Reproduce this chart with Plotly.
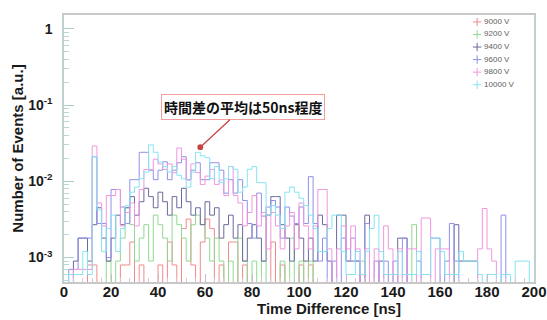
import math
import plotly.graph_objects as go

# bin edges: 2 ns bins from 0 to 200 ns
bin_width_ns = 2
n_bins = 100

labels = ["9000 V", "9200 V", "9400 V", "9600 V", "9800 V", "10000 V"]
colors = ["#f28a8a", "#92d892", "#6a6a9c", "#9090ea", "#f296de", "#86e4f2"]

v9000 = [0, 0, 0, 0, 0, 0.0008, 0.0008, 0, 0, 0,
         0, 0, 0.0008, 0.0008, 0.0016, 0, 0.0008, 0, 0, 0,
         0.0008, 0, 0.0016, 0.0008, 0, 0.0024, 0.0032, 0.0008, 0, 0.0016,
         0.0032, 0.0024, 0, 0.0008, 0, 0.0016, 0.0016, 0, 0.0008, 0,
         0, 0, 0, 0, 0.0016, 0, 0.0008, 0, 0, 0,
         0.0008, 0, 0.0008, 0, 0, 0, 0, 0, 0, 0,
         0, 0, 0, 0, 0, 0, 0, 0, 0, 0,
         0, 0, 0, 0, 0, 0, 0, 0, 0, 0,
         0, 0, 0, 0, 0, 0, 0, 0, 0, 0,
         0, 0, 0, 0, 0, 0, 0, 0, 0, 0]

v9200 = [0, 0, 0, 0, 0, 0, 0, 0, 0, 0.0009,
         0, 0.0009, 0.0018, 0.0045, 0.0027, 0.0009, 0.0018, 0.0027, 0.0009, 0.0036,
         0.0027, 0.0018, 0.0009, 0.0036, 0.0027, 0.0018, 0.0009, 0.0027, 0.0036, 0.0027,
         0.0018, 0.0009, 0.0018, 0.0009, 0, 0.0009, 0, 0.0018, 0.0009, 0,
         0.0009, 0, 0.0009, 0, 0, 0, 0.0009, 0, 0.0018, 0,
         0.0009, 0, 0.0009, 0, 0, 0, 0, 0, 0, 0,
         0, 0, 0, 0.0009, 0, 0, 0, 0, 0, 0,
         0, 0, 0, 0, 0.0027, 0, 0, 0, 0, 0,
         0, 0, 0, 0, 0, 0, 0, 0, 0, 0,
         0, 0, 0, 0, 0, 0, 0, 0, 0, 0]

v9400 = [0, 0, 0.0009, 0.0018, 0.0018, 0.0009, 0.0027, 0.0045, 0.0018, 0.0009,
         0.0018, 0.0036, 0.0027, 0.0045, 0.0063, 0.0036, 0.0054, 0.0081, 0.0063, 0.0045,
         0.0072, 0.0054, 0.0036, 0.0063, 0.0045, 0.0081, 0.0054, 0.0036, 0.0045, 0.0027,
         0.0054, 0.0036, 0.0045, 0.0018, 0.0027, 0.0036, 0.0018, 0.0027, 0.0009, 0.0018,
         0.0027, 0.0018, 0.0009, 0.0036, 0.0063, 0.0063, 0.0027, 0.0018, 0.0009, 0.0027,
         0.0018, 0.0009, 0.0018, 0.0009, 0.0036, 0.0027, 0.0009, 0, 0.0036, 0.0036,
         0.0009, 0.0009, 0.0009, 0, 0.0036, 0, 0, 0.0009, 0, 0,
         0, 0.0018, 0.0018, 0, 0, 0, 0, 0, 0, 0,
         0, 0, 0, 0.0027, 0.0009, 0.0009, 0.0009, 0.0009, 0, 0,
         0, 0, 0, 0, 0, 0, 0, 0, 0, 0]

v9600 = [0, 0.0007, 0.0007, 0.0018, 0.0018, 0.0018, 0.021, 0.0028, 0.0028, 0.001,
         0.0078, 0.0078, 0.0046, 0.0028, 0.0105, 0.0105, 0.024, 0.024, 0.014, 0.0105,
         0.014, 0.018, 0.0105, 0.014, 0.0175, 0.021, 0.0105, 0.014, 0.0175, 0.0105,
         0.0105, 0.0175, 0.0175, 0.014, 0.007, 0.0105, 0.007, 0.0105, 0.0056, 0.0028,
         0.0018, 0.007, 0.0035, 0.0046, 0.0056, 0.0046, 0.0018, 0.0046, 0.0035, 0.0028,
         0.0046, 0.0028, 0.0115, 0.0028, 0.0009, 0.0018, 0, 0.0009, 0, 0.0018,
         0.0009, 0.0018, 0.0009, 0, 0.0028, 0, 0.0009, 0, 0.0009, 0,
         0.0009, 0, 0.0018, 0, 0, 0.0009, 0, 0, 0.0018, 0.0018,
         0, 0.0009, 0.0028, 0.0009, 0, 0, 0, 0, 0, 0,
         0, 0, 0, 0.0036, 0, 0, 0, 0, 0, 0]

v9800 = [0, 0, 0.0007, 0.0007, 0.0007, 0.0007, 0.029, 0.0052, 0.0026, 0.0065,
         0.0065, 0.0078, 0.0026, 0.0039, 0.0052, 0.0026, 0.0078, 0.0143, 0.0143, 0.0195,
         0.0169, 0.0143, 0.0169, 0.013, 0.0273, 0.0195, 0.0104, 0.0169, 0.013, 0.0091,
         0.0117, 0.0143, 0.0091, 0.0104, 0.0065, 0.0156, 0.0065, 0.0052, 0.0026, 0.0039,
         0.0065, 0.0026, 0.0039, 0.0013, 0.0039, 0.0026, 0.0013, 0.0026, 0.0039, 0.0013,
         0.0052, 0.0026, 0.0013, 0.0026, 0.0078, 0.0078, 0.0013, 0, 0.0013, 0.0026,
         0.0013, 0.0026, 0.0013, 0, 0.0013, 0, 0.0013, 0, 0.0026, 0.0013,
         0, 0.0013, 0, 0.0013, 0.0013, 0, 0.0033, 0.0033, 0, 0.0013,
         0.0013, 0.0013, 0, 0, 0, 0, 0, 0, 0.0013, 0.0044,
         0.0013, 0.0009, 0, 0, 0, 0, 0, 0, 0, 0]

v10000 = [0, 0.0006, 0.0006, 0.0006, 0.0012, 0.0006, 0.021, 0.0042, 0.0012, 0.0024,
          0.0036, 0.0012, 0.0024, 0.0048, 0.0072, 0.0084, 0.0108, 0.0132, 0.030, 0.024,
          0.018, 0.0156, 0.0132, 0.0156, 0.012, 0.0108, 0.0084, 0.0132, 0.024, 0.0216,
          0.0204, 0.0108, 0.0156, 0.0096, 0.0108, 0.0156, 0.0144, 0.0072, 0.0084, 0.0144,
          0.0156, 0.0096, 0.0096, 0.0036, 0.0048, 0.0036, 0.0024, 0.0072, 0.0084, 0.0072,
          0.006, 0.0048, 0.0036, 0.0024, 0.0012, 0.0012, 0.0024, 0.0036, 0.0036, 0.0012,
          0.0006, 0.0006, 0.0012, 0.0006, 0.0012, 0.0024, 0.0036, 0.0012, 0.0006, 0.0006,
          0.0006, 0.0012, 0.0006, 0.0006, 0.0006, 0.0012, 0.0006, 0.0006, 0.0018, 0.0018,
          0.0012, 0.0006, 0.0006, 0.0006, 0.0012, 0.0009, 0.0009, 0.0009, 0.0006, 0,
          0.0006, 0.0006, 0, 0.0006, 0.0006, 0, 0.0009, 0.0009, 0.0009, 0]

series = [v9000, v9200, v9400, v9600, v9800, v10000]

x_tick_vals = [0, 20, 40, 60, 80, 100, 120, 140, 160, 180, 200]
y_tick_vals = [1, 0.1, 0.01, 0.001]
y_tick_text = ["1", "10<sup>-1</sup>", "10<sup>-2</sup>", "10<sup>-3</sup>"]
y_minor_vals = [m * 10.0 ** e for e in (-4, -3, -2, -1) for m in range(2, 10)]

x_title = "Time Difference [ns]"
y_title = "Number of Events [a.u.]"
annot_text = "時間差の平均は50ns程度"
annot_x = 58
annot_y = 0.028

edges = [i * bin_width_ns for i in range(n_bins + 1)]
floor_val = 1e-6  # empty bins drop below the visible range

fig = go.Figure()
for vals, name, col in zip(series, labels, colors):
    yv = [v if v > 0 else floor_val for v in vals]
    fig.add_trace(go.Scatter(
        x=edges, y=yv + [yv[-1]], mode="lines", line_shape="hv",
        line=dict(color=col, width=1), showlegend=False, hoverinfo="skip"))

# legend drawn on an overlay axis spanning the plot area (0..1 both ways)
leg_x = 0.879
leg_top = 0.974
leg_step = 0.047
leg_y = [leg_top - i * leg_step for i in range(len(labels))]
fig.add_trace(go.Scatter(
    x=[leg_x] * len(labels), y=leg_y, xaxis="x2", yaxis="y2",
    mode="markers+text", text=[" " + s for s in labels], textposition="middle right",
    textfont=dict(family="Liberation Sans", size=8, color="#606060"),
    marker=dict(symbol="cross-thin", size=6, line=dict(color=colors, width=1)),
    showlegend=False, hoverinfo="skip", cliponaxis=False))

xtick_font = dict(family="Liberation Sans", size=15, color="#1a1a1a", weight="bold")
ytick_font = dict(family="Liberation Sans", size=14, color="#1a1a1a", weight="bold")
title_font = dict(family="Liberation Sans", size=15, color="#1a1a1a", weight="bold")

fig.update_layout(
    width=547, height=320,
    margin=dict(l=64, r=13, t=15, b=38),
    paper_bgcolor="white", plot_bgcolor="white",
    showlegend=False,
    xaxis=dict(range=[0, 200], tickvals=x_tick_vals, ticks="inside", ticklen=8,
               tickcolor="#c8b8c8", showgrid=False, zeroline=False, automargin=False,
               showline=True, linecolor="#c8c8c8", linewidth=1.5, mirror=True,
               minor=dict(ticks="inside", ticklen=4, dtick=4, tickcolor="#d8c8d8"),
               tickfont=xtick_font, ticklabelstandoff=-5, ticklabeloverflow="allow"),
    yaxis=dict(type="log", range=[-3.32, 0.18], tickvals=y_tick_vals, ticktext=y_tick_text,
               ticks="inside", ticklen=10, tickcolor="#a8d0c8", showgrid=False,
               zeroline=False, showline=True, linecolor="#c0d0d0", linewidth=1.5,
               mirror=True, automargin=False,
               minor=dict(ticks="inside", ticklen=5, tickvals=y_minor_vals, tickcolor="#b8d8d0"),
               tickfont=ytick_font, ticklabelstandoff=7,
               title=dict(text=y_title, font=title_font, standoff=1)),
    xaxis2=dict(overlaying="x", range=[0, 1], visible=False, fixedrange=True),
    yaxis2=dict(overlaying="y", range=[0, 1], visible=False, fixedrange=True),
    annotations=[
        dict(x=annot_x, y=math.log10(annot_y), xref="x", yref="y", yanchor="middle",
             text=annot_text, showarrow=True, ax=43, ay=-40,
             arrowhead=6, arrowsize=1.2, arrowwidth=1.2, arrowcolor="#c84040",
             font=dict(family="Noto Sans CJK JP", size=14, color="#111111", weight="bold"),
             bgcolor="white", bordercolor="#f0a0a0", borderwidth=1, borderpad=2),
        dict(x=0.564, y=-0.1, xref="paper", yref="paper", xanchor="center",
             yanchor="middle", text=x_title, showarrow=False, font=title_font),
    ],
)

fig.write_html("out.html", config={"displayModeBar": False},
               post_script="document.body.style.margin='0px';document.body.style.overflow='hidden';")
